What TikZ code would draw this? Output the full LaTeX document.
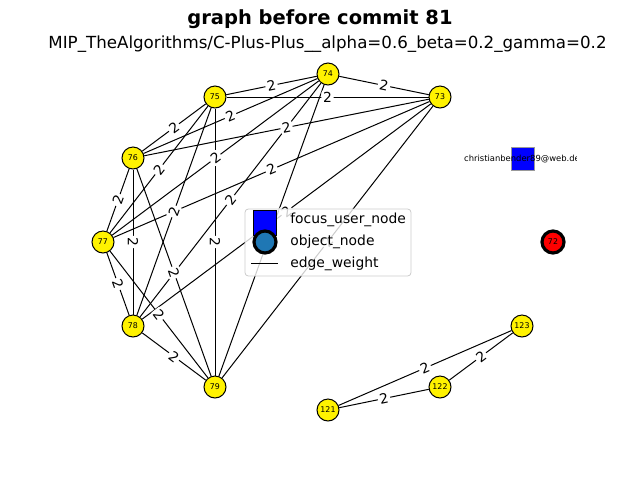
\documentclass[tikz,border=0pt]{standalone}
\usepackage{fontspec}
\setmainfont{DejaVu Sans}
\pgfdeclarelayer{edges}
\pgfdeclarelayer{labels}
\pgfdeclarelayer{legend}
\pgfsetlayers{edges,labels,main,legend}
\definecolor{mplblue}{HTML}{1F77B4}
\begin{document}
\begin{tikzpicture}[x=0.75pt,y=-0.75pt,
  gnode/.style={circle, draw=black, line width=0.75pt, fill=yellow, minimum size=16.5pt, inner sep=0pt, font=\fontsize{5.9}{6}\selectfont},
  focusnode/.style={circle, draw=black, line width=2.4pt, fill=red, minimum size=16.5pt, inner sep=0pt, font=\fontsize{5.9}{6}\selectfont},
  usernode/.style={rectangle, draw=black!40, line width=0.5pt, fill=blue, minimum width=17.5pt, minimum height=17.5pt, inner sep=0pt},
  edge/.style={draw=black, line width=0.75pt},
  lbl/.style={midway, sloped, fill=white, rounded corners=2pt, inner sep=1.3pt, font=\fontsize{10.4}{11}\selectfont},
  legtext/.style={anchor=west, inner sep=0pt, font=\fontsize{10.4}{11}\selectfont}]
\useasboundingbox (0,0) rectangle (640,480);
% titles
\node[font=\fontsize{14.6}{16}\bfseries\selectfont] (title) at (320,19) {graph before commit 81};
\node[font=\fontsize{12.5}{14}\selectfont] (subtitle) at (327.5,44) {MIP\_TheAlgorithms/C-Plus-Plus\_\_alpha=0.6\_beta=0.2\_gamma=0.2};
% nodes
\node[gnode] (n74) at (328,74) {74};
\node[gnode] (n75) at (215,97) {75};
\node[gnode] (n73) at (440,97) {73};
\node[gnode] (n76) at (133,158) {76};
\node[gnode] (n77) at (103,242) {77};
\node[gnode] (n78) at (133,326) {78};
\node[gnode] (n79) at (215,387) {79};
\node[gnode] (n121) at (328,410) {121};
\node[gnode] (n122) at (440,387) {122};
\node[gnode] (n123) at (522,326) {123};
\node[focusnode] (n72) at (553,242) {72};
\node[usernode] (user) at (523,159) {};
\begin{scope}
  \clip (80,58) rectangle (576,427);
  \node[font=\fontsize{6.3}{7}\selectfont, inner sep=0pt] (usertext) at (522,159) {christianbender89@web.de};
\end{scope}
% edges
\begin{pgfonlayer}{edges}
\foreach \a/\b in {73/74,73/75,73/76,73/77,73/78,73/79,74/75,74/76,74/77,74/78,74/79,75/76,75/77,75/78,75/79,76/77,76/78,76/79,77/78,77/79,78/79,121/122,121/123,122/123}
  \draw[edge] (n\a) -- (n\b);
\end{pgfonlayer}
\begin{pgfonlayer}{labels}
\foreach \a/\b in {73/74,73/75,73/76,73/77,73/78,73/79,74/75,74/76,74/77,74/78,74/79,75/76,75/77,75/78,75/79,76/77,76/78,76/79,77/78,77/79,78/79,121/122,121/123,122/123}
  \path (n\a.center) -- node[lbl] {2} (n\b.center);
\end{pgfonlayer}
% legend
\begin{pgfonlayer}{legend}
\draw[draw=black!20, line width=0.6pt, fill=white, fill opacity=0.8, rounded corners=2.5pt] (245,209) rectangle (411,276);
\node[rectangle, draw=black, line width=0.5pt, fill=blue, minimum width=17.5pt, minimum height=18.5pt, inner sep=0pt] (legsq) at (265,222.5) {};
\node[circle, draw=black, line width=2.4pt, fill=mplblue, minimum size=16.5pt, inner sep=0pt] (legci) at (265,242) {};
\coordinate (legl1) at (251,263);
\coordinate (legl2) at (278,263);
\draw[edge] (legl1) -- (legl2);
\node[legtext] (lt1) at (290,220) {focus\_user\_node};
\node[legtext] (lt2) at (290,242) {object\_node};
\node[legtext] (lt3) at (290,264) {edge\_weight};
\end{pgfonlayer}
\end{tikzpicture}
\end{document}
